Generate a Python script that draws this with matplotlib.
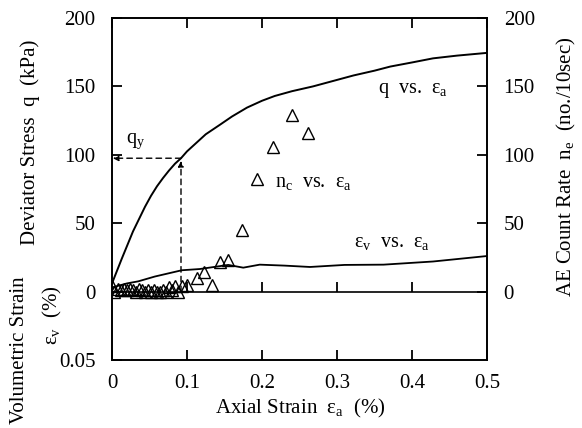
import matplotlib
matplotlib.use("Agg")
import matplotlib.pyplot as plt

plt.rcParams['font.family'] = ['Liberation Serif', 'DejaVu Serif']
plt.rcParams['mathtext.fontset'] = 'custom'
plt.rcParams['mathtext.rm'] = 'Liberation Serif'
plt.rcParams['mathtext.it'] = 'Liberation Serif'

# Deviator stress q (kPa) vs axial strain (%)
eps_q = [0, 0.013, 0.028, 0.044, 0.052, 0.060, 0.068,
         0.076, 0.084, 0.092, 0.100, 0.110, 0.125, 0.144, 0.160, 0.180, 0.200,
         0.217, 0.240, 0.268, 0.295, 0.322, 0.350, 0.371, 0.400, 0.428, 0.460,
         0.500]
q = [6, 24, 44, 62, 70, 77, 83,
     88.5, 93.5, 97.5, 102.5, 107.5, 115, 122, 128, 134.5, 139.5,
     143, 146.5, 150, 154, 158, 161.5, 164.5, 167.5, 170.5, 172.5,
     174.5]

# Volumetric strain (%) vs axial strain (%), negative = dilation
eps_v = [0, 0.020, 0.035, 0.057, 0.093, 0.117, 0.155, 0.175, 0.197, 0.230,
         0.264, 0.310, 0.362, 0.428, 0.500]
ev = [-0.003, -0.006, -0.0075, -0.011, -0.0156, -0.0165, -0.0195, -0.0175,
      -0.0197, -0.019, -0.018, -0.0195, -0.0197, -0.022, -0.026]

# AE count rate (no./10sec) vs axial strain (%)
eps_ae = [0, 0.003, 0.008, 0.012, 0.016, 0.020, 0.024, 0.028, 0.032, 0.036,
          0.040, 0.044, 0.048, 0.052, 0.056, 0.060, 0.064, 0.068, 0.072, 0.076,
          0.080, 0.084, 0.088, 0.093, 0.100, 0.113, 0.122, 0.133, 0.144, 0.155,
          0.173, 0.193, 0.215, 0.240, 0.261]
n_ae = [4, 0, 2, 1, 2, 1, 2, 1, 0, 2,
        1, 0, 1, 0, 1, 0, 0, 1, 0, 3,
        1, 4, 0, 4, 5, 10, 14, 5, 22, 23,
        45, 82, 106, 129, 116]

eps_y = 0.092
q_y = 97.5

xticks = [0, 0.1, 0.2, 0.3, 0.4, 0.5]
xticklabels = ['0', '0.1', '0.2', '0.3', '0.4', '0.5']
yticks_left = [-50, 0, 50, 100, 150, 200]
yticklabels_left = ['0.05', '0', '50', '100', '150', '200']
yticks_right = [0, 50, 100, 150, 200]
yticklabels_right = ['0', '50', '100', '150', '200']

W, H = 582, 428
fig = plt.figure(figsize=(W / 100, H / 100), dpi=100)
L, R, T, B = 112, 487, 18, 360
ax = fig.add_axes([L / W, 1 - B / H, (R - L) / W, (B - T) / H])

ax.set_xlim(0, 0.5)
ax.set_ylim(-50, 200)

ax.plot(eps_q, q, color='black', lw=1.4)
ax.plot(eps_v, [-v * 1000 for v in ev], color='black', lw=1.3)
ax.plot(eps_ae, n_ae, linestyle='none', marker='^', ms=9, mfc='none',
        mec='black', mew=1.0)
ax.axhline(0, color='black', lw=1.2)
# upward tick marks on the zero line
ax.plot(xticks[1:-1], [0] * len(xticks[1:-1]), linestyle='none', marker=2,
        ms=7, mew=1.3, color='black')

# yield construction
ax.annotate('', xy=(eps_y, q_y - 2), xytext=(eps_y, 0),
            arrowprops=dict(arrowstyle='-|>', linestyle=(0, (4, 3)), lw=1.0,
                            color='black', mutation_scale=8, shrinkA=0, shrinkB=0))
ax.annotate('', xy=(0.001, q_y), xytext=(eps_y, q_y),
            arrowprops=dict(arrowstyle='-|>', linestyle=(0, (4, 3)), lw=1.0,
                            color='black', mutation_scale=8, shrinkA=0, shrinkB=0))

fs_in = 14.5
ax.text(0.019, 110, r'q$_{\mathrm{y}}$', fontsize=fs_in, ha='left', va='center')
ax.text(0.355, 147, r'q  vs.  ε$_{\mathrm{a}}$', fontsize=fs_in, ha='left', va='center')
ax.text(0.217, 80, r'n$_{\mathrm{c}}$  vs.  ε$_{\mathrm{a}}$', fontsize=fs_in, ha='left', va='center')
ax.text(0.322, 36, r'ε$_{\mathrm{v}}$  vs.  ε$_{\mathrm{a}}$', fontsize=fs_in, ha='left', va='center')

fs_tick = 15
ax.set_xticks(xticks)
ax.set_xticklabels(xticklabels)
ax.set_yticks(yticks_left)
ax.set_yticklabels(yticklabels_left)
ax.tick_params(axis='both', direction='in', length=7, width=1.3, labelsize=fs_tick)
ax.tick_params(axis='x', top=True, pad=10)
ax.tick_params(axis='y', pad=12)

ax2 = ax.twinx()
ax2.set_ylim(-50, 200)
ax2.set_yticks(yticks_right)
ax2.set_yticklabels(yticklabels_right)
ax2.tick_params(axis='y', direction='in', length=7, width=1.3, labelsize=fs_tick, pad=12)

for a in (ax, ax2):
    for s in a.spines.values():
        s.set_linewidth(1.2)

fs_lab = 15
fig.text(30 / W, 1 - 142 / H, 'Deviator Stress  q  (kPa)', rotation=90,
         ha='center', va='center', fontsize=fs_lab)
fig.text(20 / W, 1 - 350 / H, 'Volumetric Strain', rotation=90,
         ha='center', va='center', fontsize=fs_lab)
fig.text(52 / W, 1 - 315 / H, r'ε$_{\mathrm{v}}$  (%)', rotation=90,
         ha='center', va='center', fontsize=fs_lab)
fig.text(566 / W, 1 - 167 / H, r'AE Count Rate  n$_{\mathrm{e}}$  (no./10sec)', rotation=90,
         ha='center', va='center', fontsize=fs_lab)
fig.text(300 / W, 1 - 408 / H, r'Axial Strain  ε$_{\mathrm{a}}$  (%)',
         ha='center', va='center', fontsize=fs_lab)

fig.savefig('out.png', dpi=100)
